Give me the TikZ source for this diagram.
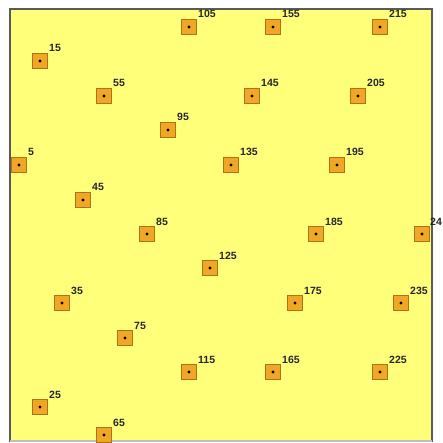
\documentclass[tikz,border=0pt]{standalone}
\usepackage{fontspec}
\setmainfont{Liberation Sans}
\definecolor{fieldfill}{RGB}{255,255,122}
\definecolor{fieldedge}{RGB}{90,90,90}
\definecolor{sitefill}{RGB}{242,166,38}
\definecolor{siteedge}{RGB}{170,115,30}

\begin{document}
\begin{tikzpicture}[
  x=1pt, y=-1pt,
  every node/.style={font=\bfseries\fontsize{10.5}{12}\selectfont},
  field/.style={fill=fieldfill, draw=fieldedge, line width=1.2pt},
  site/.style={draw=siteedge, fill=sitefill, line width=0.8pt, minimum size=15pt, inner sep=0pt},
  tag/.style={anchor=base west, inner sep=0pt, text=black!85}
]
\useasboundingbox (0,0) rectangle (442,443);

% plot area
\path[field] (10,9) rectangle (432,441);
\draw[black!25, line width=1.2pt] (10,441) -- (432,441);

% sample sites with their ids
\foreach \n/\x/\y in {5/19/165, 15/40/61, 25/40/407, 35/62/303, 45/83/200,
  55/104/96, 65/104/435, 75/125/338, 85/147/234, 95/168/130, 105/189/27,
  115/189/372, 125/210/268, 135/231/165, 145/252/96, 155/273/27, 165/273/372,
  175/295/303, 185/316/234, 195/337/165, 205/358/96, 215/380/27, 225/380/372,
  235/401/303}{
  \node[site] (s\n) at (\x,\y) {};
  \fill (s\n) circle (1.7pt);
  \node[tag] (t\n) at (\x+9,\y-9) {\n};
}

% last site at the right edge, id cut to two digits
\node[site] (s245) at (422,234) {};
\fill (s245) circle (1.7pt);
\node[tag] (t245) at (430,225) {24};

\end{tikzpicture}
\end{document}
